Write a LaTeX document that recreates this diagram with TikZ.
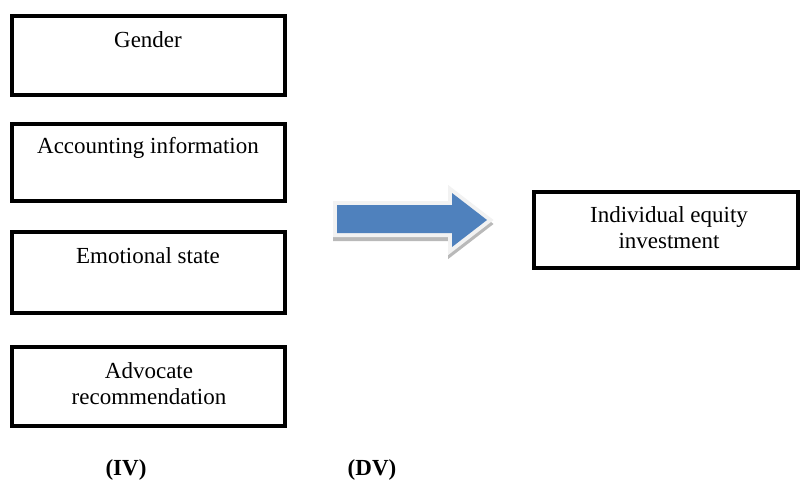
\documentclass[tikz,border=0pt]{standalone}
\usepackage{fontspec}
\setmainfont{Liberation Serif}
\begin{document}
\begin{tikzpicture}[x=1pt,y=-1pt,
  box/.style={draw=black,line width=4pt,inner sep=0pt},
  txt/.style={inner sep=0pt,font=\fontsize{23}{26}\selectfont,align=center},
  lbl/.style={inner sep=0pt,font=\fontsize{23}{26}\selectfont\bfseries},
  arrowpath/.style={insert path={-- ++(115,0) -- ++(0,-12) -- ++(35,27) -- ++(-35,27) -- ++(0,-14) -- ++(-115,0) -- cycle}}]
\useasboundingbox (0,0) rectangle (800,479);
% boxes
\node[box,minimum width=273pt,minimum height=79pt] (gb) at (148.5,55.5) {};
\node[box,minimum width=273pt,minimum height=77pt] (ab) at (148.5,162.5) {};
\node[box,minimum width=273pt,minimum height=81pt] (eb) at (148.5,272.5) {};
\node[box,minimum width=273pt,minimum height=79pt] (vb) at (148.5,386.5) {};
\node[box,minimum width=264pt,minimum height=76pt] (db) at (666,230) {};
% texts
\node[txt,anchor=base] (gt) at (148,47) {Gender};
\node[txt,anchor=base] (at) at (148,153) {Accounting information};
\node[txt,anchor=base] (et) at (148,263) {Emotional state};
\node[txt] (vt) at (149,384) {Advocate\\recommendation};
\node[txt] (dt) at (669,228) {Individual equity\\investment};
\node[lbl,anchor=base] (iv) at (126,475) {(IV)};
\node[lbl,anchor=base] (dv) at (372,475) {(DV)};
% block arrow
\coordinate (arw) at (337,205);
\draw[gray!55,fill=gray!55,line width=8pt,line join=miter] ([shift={(0,4)}]arw) [arrowpath];
\draw[gray!10,fill=gray!10,line width=8pt,line join=miter] (arw) [arrowpath];
\fill[fill={rgb,255:red,79;green,129;blue,189}] (arw) [arrowpath];
\end{tikzpicture}
\end{document}
